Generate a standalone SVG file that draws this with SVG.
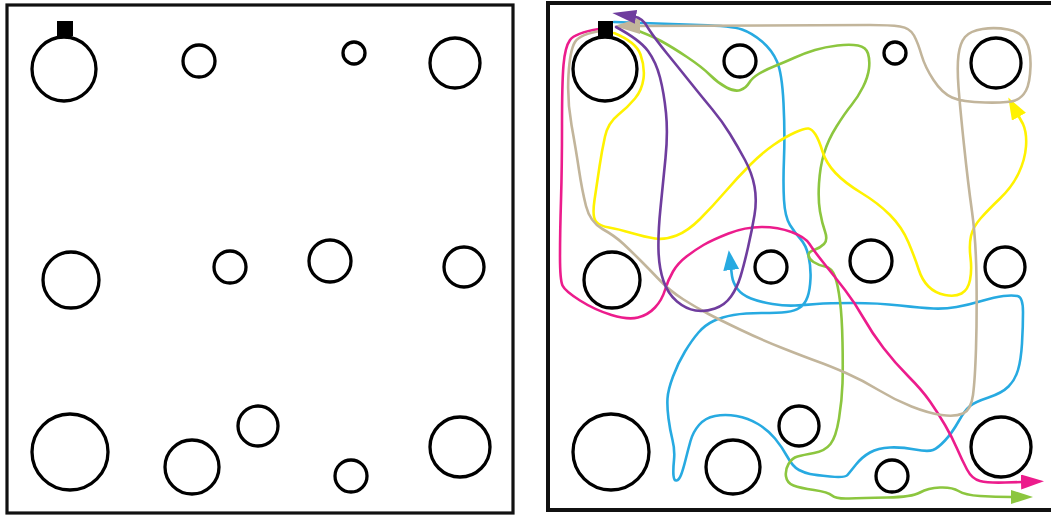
<svg xmlns="http://www.w3.org/2000/svg" width="1051" height="519" viewBox="0 0 1051 519">
<style>
.frame{fill:none;stroke:#111;}
.ring{fill:none;stroke:#000;stroke-width:3.3;}
.dock{fill:#000;}
.route{fill:none;stroke-width:2.6;stroke-linecap:round;stroke-linejoin:round;}
.tan{stroke:#c2b59b;}
.purple{stroke:#6f3d9e;}
.yellow{stroke:#fff200;}
.green{stroke:#8cc63f;}
.cyan{stroke:#27aae1;}
.magenta{stroke:#ec1c8c;}
</style>
<defs>
<marker id="mTan" markerUnits="userSpaceOnUse" markerWidth="26" markerHeight="16" viewBox="0 0 26 16" refX="2" refY="8" orient="auto"><path d="M0,0 L26,8 L0,16 Z" fill="#c2b59b"/></marker>
<marker id="mPurple" markerUnits="userSpaceOnUse" markerWidth="24" markerHeight="14" viewBox="0 0 24 14" refX="2" refY="7" orient="auto"><path d="M0,0 L24,7 L0,14 Z" fill="#6f3d9e"/></marker>
<marker id="mYellow" markerUnits="userSpaceOnUse" markerWidth="22" markerHeight="16" viewBox="0 0 22 16" refX="2" refY="8" orient="auto"><path d="M0,0 L22,8 L0,16 Z" fill="#fff200"/></marker>
<marker id="mGreen" markerUnits="userSpaceOnUse" markerWidth="22" markerHeight="14" viewBox="0 0 22 14" refX="1" refY="7" orient="auto"><path d="M0,0 L22,7 L0,14 Z" fill="#8cc63f"/></marker>
<marker id="mCyan" markerUnits="userSpaceOnUse" markerWidth="20" markerHeight="16" viewBox="0 0 20 16" refX="2" refY="8" orient="auto"><path d="M0,0 L20,8 L0,16 Z" fill="#27aae1"/></marker>
<marker id="mMagenta" markerUnits="userSpaceOnUse" markerWidth="23" markerHeight="15" viewBox="0 0 23 15" refX="1" refY="7.5" orient="auto"><path d="M0,0 L23,7.5 L0,15 Z" fill="#ec1c8c"/></marker>
<g id="layout">
<circle class="ring" cx="64" cy="69" r="32"/>
<circle class="ring" cx="199" cy="61" r="16"/>
<circle class="ring" cx="354" cy="53" r="11"/>
<circle class="ring" cx="455" cy="63" r="25"/>
<circle class="ring" cx="71" cy="280" r="28"/>
<circle class="ring" cx="230" cy="267" r="16"/>
<circle class="ring" cx="330" cy="261" r="21"/>
<circle class="ring" cx="464" cy="267" r="20"/>
<circle class="ring" cx="70" cy="452" r="38"/>
<circle class="ring" cx="192" cy="467" r="27"/>
<circle class="ring" cx="258" cy="426" r="20"/>
<circle class="ring" cx="351" cy="476" r="16"/>
<circle class="ring" cx="460" cy="447" r="30"/>
</g>
</defs>
<rect width="1051" height="519" fill="#fff"/>
<g id="panel-empty">
<rect class="frame" x="7" y="5" width="506" height="508" stroke-width="3.2"/>
<use href="#layout"/>
<rect class="dock" x="57" y="21" width="16" height="15"/>
</g>
<g id="panel-routes">
<rect class="frame" x="548" y="3" width="510" height="507" stroke-width="4"/>
<use href="#layout" transform="translate(541,0)"/>
<g id="connectors">
<path id="route-cyan" class="route cyan" marker-end="url(#mCyan)" d="M614,22 L700,25 Q732,26 742,29.5 Q752,33 762,41.5 Q772,50 777,61.5 Q782,73 783.5,103 Q785,133 784,158 Q783,183 784,200 Q785,217 790,225 Q795,233 800.5,239 Q806,245 808.5,256 Q811,267 810.5,278.5 Q810,290 807.5,297 Q805,304 800,307.5 Q795,311 786.5,312 Q778,313 761.5,313 Q745,313 733.5,315 Q722,317 713.5,321 Q705,325 698.5,332.5 Q692,340 685,351.5 Q678,363 673,376.5 Q668,390 667.5,398.5 Q667,407 668.5,418.5 Q670,430 672.5,440 Q675,450 674,460 Q673,470 673.5,475.5 Q674,481 676.5,480.5 Q679,480 681,475 Q683,470 685.5,460 Q688,450 690.5,441 Q693,432 699,425 Q705,418 715,416 Q725,414 736.5,416 Q748,418 758,424 Q768,430 775,438.5 Q782,447 787.5,457 Q793,467 799,470 Q805,473 810,474 Q815,475 830,476.5 Q845,478 847.5,475 Q850,472 856,464.5 Q862,457 870,452.5 Q878,448 890,447.5 Q902,447 915,449.5 Q928,452 933,450 Q938,448 945,440.5 Q952,433 958.5,421.5 Q965,410 970,406 Q975,402 988.5,397.5 Q1002,393 1008.5,386.5 Q1015,380 1018,370 Q1021,360 1022,343.5 Q1023,327 1023,312 Q1023,297 1017.5,296 Q1012,295 1003.5,296 Q995,297 981.5,301 Q968,305 956.5,307 Q945,309 933.5,308.5 Q922,308 900,305.5 Q878,303 853,303 Q828,303 816.5,304 Q805,305 795,305.5 Q785,306 772.5,304 Q760,302 751,298.5 Q742,295 737.5,289 Q733,283 732,276 L731,268"/>
<path id="route-green" class="route green" marker-end="url(#mGreen)" d="M628,27 Q650,35 661,41 Q672,47 687,57 Q702,67 710,75 Q718,83 726.5,87.5 Q735,92 740.5,90 Q746,88 749,83 Q752,78 758.5,74 Q765,70 775,66 Q785,62 795,57.5 Q805,53 815,50 Q825,47 837.5,45.5 Q850,44 858,45.5 Q866,47 868,53.5 Q870,60 869,68.5 Q868,77 863,87 Q858,97 851.5,105 Q845,113 836.5,126.5 Q828,140 824,153.5 Q820,167 819,183.5 Q818,200 820,211.5 Q822,223 825,231.5 Q828,240 824,244 Q820,248 814,250 Q808,252 808.5,255.5 Q809,259 813.5,262 Q818,265 825,266.5 Q832,268 835,276.5 Q838,285 840,301 Q842,317 842.5,342 Q843,367 842.5,383.5 Q842,400 839,418.5 Q836,437 830.5,444 Q825,451 814,453 Q803,455 797.5,456.5 Q792,458 788.5,464 Q785,470 786,476.5 Q787,483 793.5,485.5 Q800,488 814,490 Q828,492 832,495.5 Q836,499 849,498.5 Q862,498 887,497.5 Q912,497 920,492.5 Q928,488 940,487.5 Q952,487 958.5,491 Q965,495 980,496 Q995,497 1012,497"/>
<path id="route-yellow" class="route yellow" marker-end="url(#mYellow)" d="M614,33 Q636,42 640.5,54.5 Q645,67 643.5,78.5 Q642,90 635,98.5 Q628,107 618,115 Q608,123 605,136.5 Q602,150 599.5,166.5 Q597,183 594.5,200 Q592,217 596,221.5 Q600,226 609,227.5 Q618,229 631.5,233 Q645,237 655,238.5 Q665,240 676.5,235.5 Q688,231 700,219 Q712,207 725,192 Q738,177 750,165 Q762,153 773.5,145 Q785,137 795,132.5 Q805,128 808.5,128.5 Q812,129 815.5,134.5 Q819,140 822.5,151.5 Q826,163 835.5,173 Q845,183 861.5,193 Q878,203 890,215 Q902,227 908.5,242.5 Q915,258 918.5,269 Q922,280 928.5,286.5 Q935,293 945,295 Q955,297 961.5,293.5 Q968,290 970,280 Q972,270 970.5,257.5 Q969,245 971,236 Q973,227 980.5,218.5 Q988,210 1000,198.5 Q1012,187 1018.5,173.5 Q1025,160 1026,146.5 Q1027,133 1023,124 L1018,115"/>
<path id="route-magenta" class="route magenta" marker-end="url(#mMagenta)" d="M599,29 Q575,33 570,40 Q565,47 563.5,65 Q562,83 562,125 Q562,167 561,200 Q560,233 560,256.5 Q560,280 562.5,285.5 Q565,291 580,300.5 Q595,310 611.5,315 Q628,320 638,317.5 Q648,315 655,307.5 Q662,300 665,290 Q668,280 673,271.5 Q678,263 686.5,256.5 Q695,250 703.5,245 Q712,240 728.5,233.5 Q745,227 761.5,227 Q778,227 791.5,232 Q805,237 809.5,244 Q814,251 824.5,264 Q835,277 845,290 Q855,303 863.5,318 Q872,333 883.5,348 Q895,363 908.5,376.5 Q922,390 930,401.5 Q938,413 945,425 Q952,437 957,448.5 Q962,460 967,469.5 Q972,479 980,481 Q988,483 1005,482.5 L1022,482"/>
<path id="route-tan" class="route tan" marker-end="url(#mTan)" d="M601,31 Q580,34 575,42 Q570,50 568.5,75 Q567,100 571.5,125 Q576,150 579,170 Q582,190 586,206 Q590,222 602.5,229 Q615,236 623.5,244 Q632,252 641,261 Q650,270 660,280.5 Q670,291 683.5,299.5 Q697,308 708.5,314 Q720,320 741,330 Q762,340 783.5,348.5 Q805,357 817.5,361.5 Q830,366 846,373 Q862,380 878.5,390 Q895,400 911.5,406.5 Q928,413 941.5,415 Q955,417 963,413.5 Q971,410 973,395 Q975,380 976,348.5 Q977,317 976.5,278.5 Q976,240 972,211.5 Q968,183 964,145 Q960,107 958.5,87 Q957,67 958.5,55 Q960,43 965,37 Q970,31 982.5,29 Q995,27 1008,29.5 Q1021,32 1026,41 Q1031,50 1030.5,66.5 Q1030,83 1026,90.5 Q1022,98 1015,100.5 Q1008,103 985,102.5 Q962,102 952,97.5 Q942,93 933.5,80 Q925,67 921.5,55 Q918,43 914,35.5 Q910,28 900,26.5 Q890,25 870,25 L638,26"/>
<path id="route-purple" class="route purple" marker-end="url(#mPurple)" d="M616,27 Q640,40 648,51 Q656,62 660,77.5 Q664,93 666,113 Q668,133 665.5,158 Q663,183 660.5,208 Q658,233 658.5,250.5 Q659,268 663.5,281 Q668,294 677,301.5 Q686,309 695.5,310.5 Q705,312 715,308.5 Q725,305 731,296.5 Q737,288 740.5,276.5 Q744,265 748,247.5 Q752,230 754.5,215 Q757,200 754.5,186.5 Q752,173 745,160 Q738,147 730,134 Q722,121 712,109 Q702,97 690,82 Q678,67 667,53.5 Q656,40 648,28 Q643,18 634,16.5"/>
</g>
<rect class="dock" x="598" y="21" width="15" height="15"/>
</g>
</svg>
